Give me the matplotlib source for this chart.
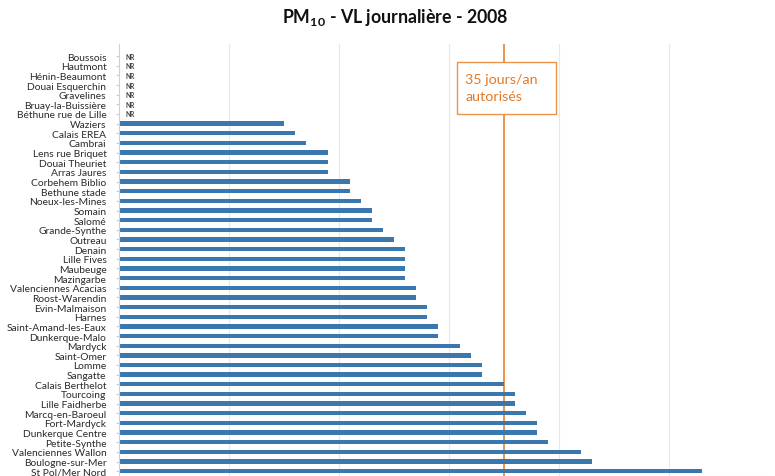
import matplotlib
matplotlib.use("Agg")
import matplotlib.pyplot as plt
from matplotlib.patches import Rectangle

plt.rcParams['font.family'] = ['Lato', 'DejaVu Sans']
plt.rcParams['mathtext.fontset'] = 'custom'
plt.rcParams['mathtext.rm'] = 'Lato'
plt.rcParams['mathtext.bf'] = 'Lato:bold'

stations = [
    "Boussois", "Hautmont", "Hénin-Beaumont", "Douai Esquerchin", "Gravelines",
    "Bruay-la-Buissière", "Béthune rue de Lille",
    "Waziers", "Calais EREA", "Cambrai", "Lens rue Briquet", "Douai Theuriet",
    "Arras Jaures", "Corbehem Biblio", "Bethune stade", "Noeux-les-Mines",
    "Somain", "Salomé", "Grande-Synthe", "Outreau", "Denain", "Lille Fives",
    "Maubeuge", "Mazingarbe", "Valenciennes Acacias", "Roost-Warendin",
    "Evin-Malmaison", "Harnes", "Saint-Amand-les-Eaux", "Dunkerque-Malo",
    "Mardyck", "Saint-Omer", "Lomme", "Sangatte", "Calais Berthelot",
    "Tourcoing", "Lille Faidherbe", "Marcq-en-Baroeul", "Fort-Mardyck",
    "Dunkerque Centre", "Petite-Synthe", "Valenciennes Wallon",
    "Boulogne-sur-Mer", "St Pol/Mer Nord",
]
# None = NR (non représentatif)
days = [
    None, None, None, None, None, None, None,
    15, 16, 17, 19, 19, 19, 21, 21, 22, 23, 23, 24, 25, 26, 26, 26, 26,
    27, 27, 28, 28, 29, 29, 31, 32, 33, 33, 35, 36, 36, 37, 38, 38, 39,
    42, 43, 53,
]
limit_days = 35
limit_label = "35 jours/an\nautorisés"
title = r"$\mathbf{PM_{10}}$ - VL journalière - 2008"

W, H = 775, 477
fig = plt.figure(figsize=(W / 100, H / 100), dpi=100)
ax = fig.add_axes([119 / W, 0.0, (770 - 119) / W, (477 - 45) / H])

bar_color = "#3A77AE"
orange = "#EC9347"
ypos = list(range(len(stations)))
vals = [d if d is not None else 0 for d in days]
ax.barh(ypos, vals, height=0.45, color=bar_color, zorder=2)
for y, d in zip(ypos, days):
    if d is None:
        ax.text(0.55, y, "NR", fontsize=4.8, fontweight="bold", color="#444444",
                va="center", ha="left", zorder=3)

ax.set_ylim(43.5, -1.25)
ax.set_xlim(0, 59.2)
ax.set_yticks(ypos)
ax.set_yticklabels(stations, fontsize=7.4, color="#2a2a2a")
ax.tick_params(axis="y", length=2, pad=7, color="#cccccc")
ax.set_xticks([10, 20, 30, 40, 50])
ax.tick_params(axis="x", length=0, labelbottom=False)
ax.grid(axis="x", color="#e8e8e8", linewidth=0.8, zorder=0)
for s in ["top", "right"]:
    ax.spines[s].set_visible(False)
ax.spines["left"].set_color("#d0d0d0")
ax.spines["bottom"].set_color("#d8d8d8")

ax.axvline(limit_days, color=orange, linewidth=1.4, zorder=1)
ax.add_patch(Rectangle((30.7, 0.62), 9.0, 5.4, facecolor="white",
                       edgecolor=orange, linewidth=1.0, zorder=4))
ax.text(31.5, 3.3, limit_label, fontsize=10.3, color="#E07A2A", ha="left",
        va="center", linespacing=1.5, zorder=5)

fig.text(395 / W, 1 - 18 / H, title, fontsize=12.8, fontweight="bold",
         ha="center", va="center", color="#111111")

fig.savefig("out.png", dpi=100)
